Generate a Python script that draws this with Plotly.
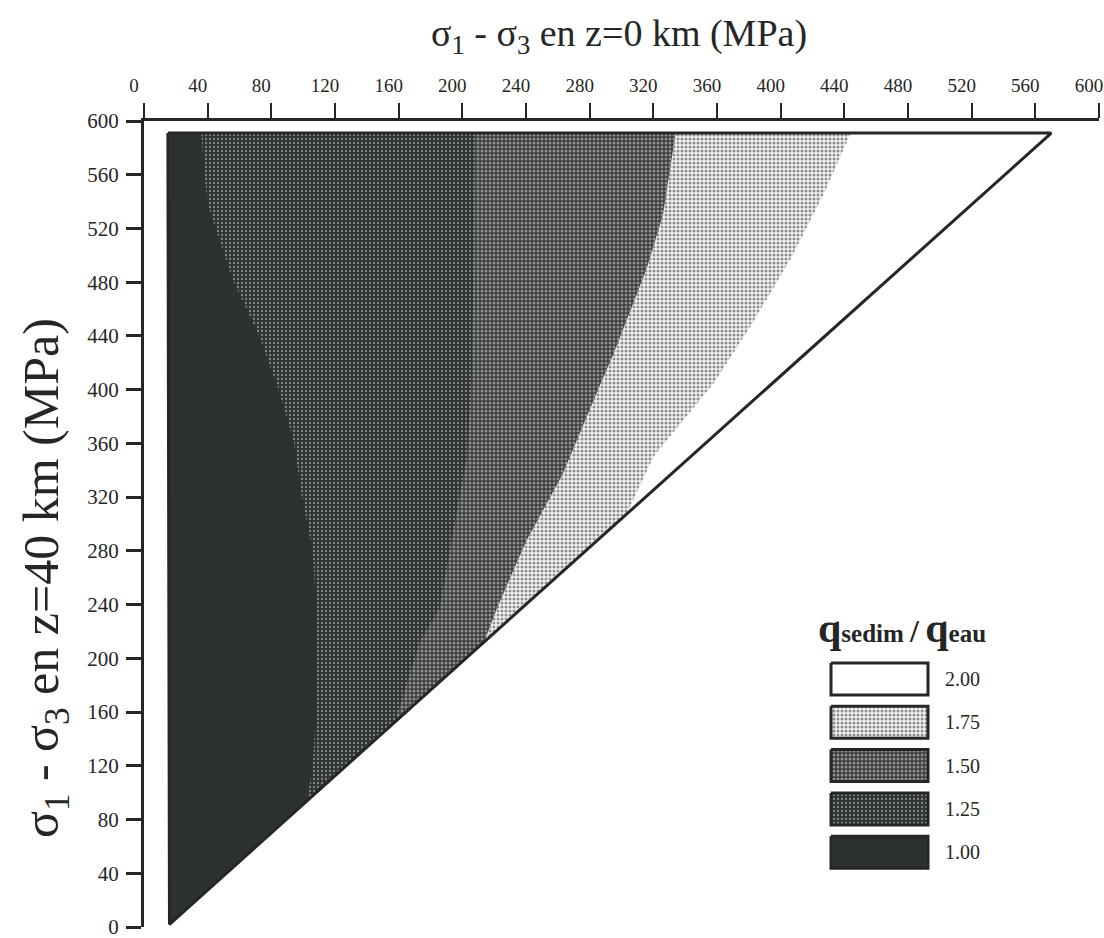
import plotly.graph_objects as go

# Domain: sigma1-sigma3 at z=0 km (x) vs at z=40 km (y), both in MPa
tri_x = [15, 570, 16]
tri_y = [591, 591, 2]

# Iso-ratio boundaries q_sedim / q_eau, traced from the top edge down to the hypotenuse
a_y = [591, 560, 538, 516, 481, 441, 402, 362, 322, 280, 240, 200, 160, 119, 93]
a_x = [36, 38, 40, 46, 56, 72, 84, 94, 99, 106, 108, 108, 108, 106, 102]   # 1.00 | 1.25

b_y = [591, 500, 412, 350, 286, 238, 211, 153]
b_x = [208, 207, 206, 203, 193, 186, 173, 158]                             # 1.25 | 1.50

c_y = [591, 530, 491, 460, 424, 405, 337, 287, 238, 213]
c_x = [334, 326, 316, 306, 294, 287, 263, 240, 222, 214]                   # 1.50 | 1.75

d_y = [591, 548, 499, 449, 405, 350, 307]
d_x = [444, 428, 407, 382, 358, 320, 303]                                  # 1.75 | 2.00

levels = ["2.00", "1.75", "1.50", "1.25", "1.00"]
x_ticks = list(range(0, 601, 40))
y_ticks = list(range(0, 601, 40))

FONT = "Liberation Serif, Times New Roman, serif"
INK = "#262626"
DARK = "#2c322f"

styles = {
    "2.00": dict(fillcolor="white"),
    "1.75": dict(fillcolor="#a8a8a8",
                 fillpattern=dict(shape=".", bgcolor="#f2f2f2", fgcolor="#2a2a2a", size=4, solidity=0.45)),
    "1.50": dict(fillcolor="#6c6c6c",
                 fillpattern=dict(shape=".", bgcolor="#3a3d3b", fgcolor="#e6e6e6", size=4, solidity=0.45)),
    "1.25": dict(fillcolor="#4a4e4c",
                 fillpattern=dict(shape=".", bgcolor="#2e3431", fgcolor="#dcdcdc", size=4, solidity=0.25)),
    "1.00": dict(fillcolor=DARK),
}

fig = go.Figure()

# base triangle = highest ratio
fig.add_trace(go.Scatter(x=tri_x + [tri_x[0]], y=tri_y + [tri_y[0]], fill="toself",
                         mode="lines", line=dict(width=0), hoverinfo="skip",
                         showlegend=False, **styles["2.00"]))

# nested regions, each bounded by the left edge and one iso-line
for lvl, bx, by in [("1.75", d_x, d_y), ("1.50", c_x, c_y), ("1.25", b_x, b_y), ("1.00", a_x, a_y)]:
    px = [tri_x[0]] + bx + [tri_x[2], tri_x[0]]
    py = [tri_y[0]] + by + [tri_y[2], tri_y[0]]
    fig.add_trace(go.Scatter(x=px, y=py, fill="toself", mode="lines", line=dict(width=0),
                             hoverinfo="skip", showlegend=False, **styles[lvl]))

# triangle outline
fig.add_trace(go.Scatter(x=tri_x + [tri_x[0]], y=tri_y + [tri_y[0]], mode="lines",
                         line=dict(color=INK, width=3), hoverinfo="skip", showlegend=False))

L, R, T, B = 144, 5, 121, 11
W, H = 1104, 938
PW, PH = W - L - R, H - T - B


def paper_x(px):
    return (px - L) / PW


def paper_y(py):
    return (H - B - py) / PH


# legend swatches, drawn on a pixel-like overlay axis pair
sw_x0, sw_x1, sw_top, sw_h, sw_gap = 831, 928, 663, 32, 43.3
for i, lvl in enumerate(levels):
    y0 = sw_top + i * sw_gap
    y1 = y0 + sw_h
    fig.add_trace(go.Scatter(x=[sw_x0, sw_x1, sw_x1, sw_x0, sw_x0], y=[y0, y0, y1, y1, y0],
                             xaxis="x2", yaxis="y2", fill="toself", mode="lines",
                             line=dict(color=INK, width=3), hoverinfo="skip",
                             showlegend=False, **styles[lvl]))

annotations = []
for i, lvl in enumerate(levels):
    yc = sw_top + i * sw_gap + sw_h / 2
    annotations.append(dict(x=paper_x(943), y=paper_y(yc), xref="paper", yref="paper",
                            text=lvl, showarrow=False, xanchor="left", yanchor="middle",
                            font=dict(family=FONT, size=20, color=INK)))

annotations.append(dict(
    x=paper_x(816), y=paper_y(628), xref="paper", yref="paper", showarrow=False,
    xanchor="left", yanchor="middle",
    text=("<b><span style='font-size:42px'>q</span>sedim "
          "<span style='font-size:32px'>/</span> "
          "<span style='font-size:42px'>q</span>eau</b>"),
    font=dict(family=FONT, size=25, color=INK)))

# axis titles
annotations.append(dict(x=paper_x(619), y=paper_y(36), xref="paper", yref="paper",
                        xanchor="center", yanchor="middle", showarrow=False,
                        text="σ<sub>1</sub> - σ<sub>3</sub> en z=0 km (MPa)",
                        font=dict(family=FONT, size=38, color=INK)))
annotations.append(dict(x=paper_x(45), y=paper_y(578), xref="paper", yref="paper",
                        xanchor="center", yanchor="middle", showarrow=False, textangle=-90,
                        text="σ<sub>1</sub> - σ<sub>3</sub> en z=40 km (MPa)",
                        font=dict(family=FONT, size=50, color=INK)))

fig.update_layout(
    width=W, height=H,
    margin=dict(l=L, r=R, t=T, b=B, autoexpand=False),
    paper_bgcolor="white", plot_bgcolor="white",
    showlegend=False,
    font=dict(family=FONT, color=INK),
    xaxis=dict(range=[0, 600], side="top", tickvals=x_ticks,
               ticks="outside", ticklen=15,
               tickwidth=2, tickcolor=INK, showline=True, linewidth=3, linecolor=INK,
               showgrid=False, zeroline=False, tickfont=dict(family=FONT, size=19, color=INK),
               ticklabelstandoff=3, ticklabelshift=-10, ticklabeloverflow="allow",
               automargin=False, fixedrange=True),
    yaxis=dict(range=[0, 600], tickvals=y_ticks, ticks="outside", ticklen=15,
               tickwidth=3, tickcolor=INK, showline=True, linewidth=3, linecolor=INK,
               showgrid=False, zeroline=False, tickfont=dict(family=FONT, size=21, color=INK),
               ticklabelstandoff=3, ticklabeloverflow="allow", automargin=False,
               fixedrange=True),
    xaxis2=dict(overlaying="x", anchor="y2", range=[L, W - R], visible=False, fixedrange=True),
    yaxis2=dict(overlaying="y", anchor="x2", range=[H - B, T], visible=False, fixedrange=True),
    annotations=annotations,
)

fig.write_html("out.html")
